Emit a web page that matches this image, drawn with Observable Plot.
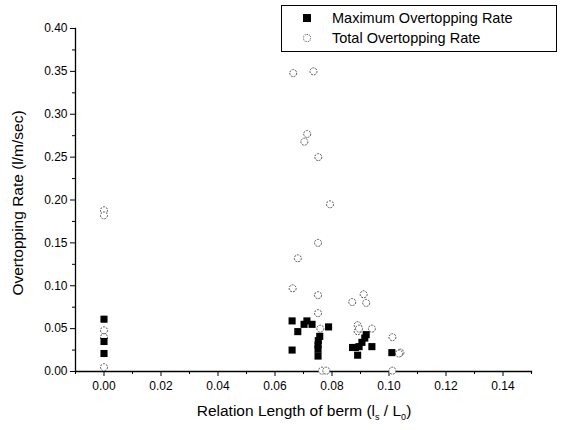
<!DOCTYPE html>
<html>
<head>
<meta charset="utf-8">
<script src="https://cdn.jsdelivr.net/npm/d3@7"></script>
<script src="https://cdn.jsdelivr.net/npm/@observablehq/plot@0.6"></script>
<style>
  html, body { margin: 0; padding: 0; background: white; }
  #wrap { position: relative; width: 563px; height: 430px; font-family: "Liberation Sans", Arial, sans-serif; }
  #legend { position: absolute; left: 281px; top: 5px; width: 276px; height: 47px; border: 1.5px solid black; box-sizing: border-box; background: white; font-size: 14.5px; }
  .row { position: absolute; left: 0; display: flex; align-items: center; }
  .sym { width: 50px; display: flex; justify-content: center; }
  .sq { width: 8px; height: 8px; background: black; }
  .ci { width: 6px; height: 6px; border: 1px dotted #555; border-radius: 50%; }
</style>
</head>
<body>
<div id="wrap">
  <div id="chart"></div>
  <div id="legend">
    <div class="row" style="top:4px"><div class="sym"><div class="sq"></div></div><span>Maximum Overtopping Rate</span></div>
    <div class="row" style="top:24px"><div class="sym"><div class="ci"></div></div><span>Total Overtopping Rate</span></div>
  </div>
</div>
<script>
// Maximum Overtopping Rate (filled squares)
const maxX = [0, 0, 0, 0.066, 0.066, 0.068, 0.0702, 0.0712, 0.073, 0.0788, 0.0757, 0.0752, 0.0751, 0.0751, 0.0751, 0.0872, 0.0882, 0.089, 0.0895, 0.0905, 0.0915, 0.092, 0.094, 0.101];
const maxY = [0.061, 0.035, 0.021, 0.059, 0.025, 0.0465, 0.055, 0.059, 0.055, 0.052, 0.041, 0.036, 0.031, 0.026, 0.018, 0.028, 0.028, 0.019, 0.029, 0.034, 0.039, 0.043, 0.029, 0.022];
// Total Overtopping Rate (open circles)
const totX = [0, 0, 0, 0, 0, 0.0664, 0.0735, 0.0713, 0.0703, 0.0752, 0.0793, 0.0751, 0.068, 0.0662, 0.0751, 0.0751, 0.0759, 0.0765, 0.078, 0.0871, 0.0911, 0.092, 0.089, 0.089, 0.0895, 0.094, 0.1012, 0.104, 0.1035, 0.1012];
const totY = [0.188, 0.182, 0.048, 0.040, 0.005, 0.348, 0.350, 0.277, 0.268, 0.250, 0.195, 0.150, 0.132, 0.097, 0.089, 0.068, 0.050, 0.001, 0.001, 0.081, 0.090, 0.080, 0.054, 0.047, 0.050, 0.050, 0.040, 0.022, 0.021, 0.001];
// Axis ticks
const xTicks = [0, 0.02, 0.04, 0.06, 0.08, 0.10, 0.12, 0.14];
const xMinor = [-0.01, 0.01, 0.03, 0.05, 0.07, 0.09, 0.11, 0.13, 0.15];
const yTicks = [0, 0.05, 0.10, 0.15, 0.20, 0.25, 0.30, 0.35, 0.40];
const yMinor = [0.025, 0.075, 0.125, 0.175, 0.225, 0.275, 0.325, 0.375];

const maxData = maxX.map((x, i) => ({x, y: maxY[i]}));
const totData = totX.map((x, i) => ({x, y: totY[i]}));

const chart = Plot.plot({
  width: 563,
  height: 430,
  marginLeft: 75,
  marginRight: 32,
  marginTop: 28,
  marginBottom: 59,
  x: {domain: [-0.01, 0.15]},
  y: {domain: [0, 0.40]},
  style: {fontFamily: "'Liberation Sans', Arial, sans-serif", fontSize: "12px", color: "black", background: "white"},
  marks: [
    Plot.axisX({ticks: xTicks, tickSize: 5, tickPadding: 5, tickFormat: d => d.toFixed(2), label: null}),
    Plot.axisX({ticks: xMinor, tickSize: 3, tickFormat: () => "", label: null}),
    Plot.axisY({ticks: yTicks, tickSize: 5, tickPadding: 3, tickFormat: d => d.toFixed(2), label: null}),
    Plot.axisY({ticks: yMinor, tickSize: 3, tickFormat: () => "", label: null}),
    Plot.frame({anchor: "left", strokeWidth: 1.3}),
    Plot.frame({anchor: "bottom", strokeWidth: 1.3}),
    Plot.dot(totData, {x: "x", y: "y", r: 3.5, stroke: "#555", strokeWidth: 1, strokeDasharray: "2,1", fill: "white"}),
    Plot.dot(maxData, {x: "x", y: "y", symbol: "square", r: 4, fill: "black"})
  ]
});
document.getElementById("chart").appendChild(chart);

const svg = d3.select(chart);
// Y axis title
svg.append("text")
  .attr("transform", "translate(23,203) rotate(-90)")
  .attr("text-anchor", "middle")
  .attr("font-size", 15.5)
  .attr("fill", "black")
  .text("Overtopping Rate (l/m/sec)");
// X axis title with subscripts
const xt = svg.append("text")
  .attr("x", 304).attr("y", 416)
  .attr("text-anchor", "middle")
  .attr("font-size", 15.5)
  .attr("fill", "black");
xt.append("tspan").text("Relation Length of berm (l");
xt.append("tspan").attr("dy", 4).attr("font-size", 9).text("s");
xt.append("tspan").attr("dy", -4).text(" / L");
xt.append("tspan").attr("dy", 4).attr("font-size", 9).text("0");
xt.append("tspan").attr("dy", -4).text(")");
</script>
</body>
</html>
